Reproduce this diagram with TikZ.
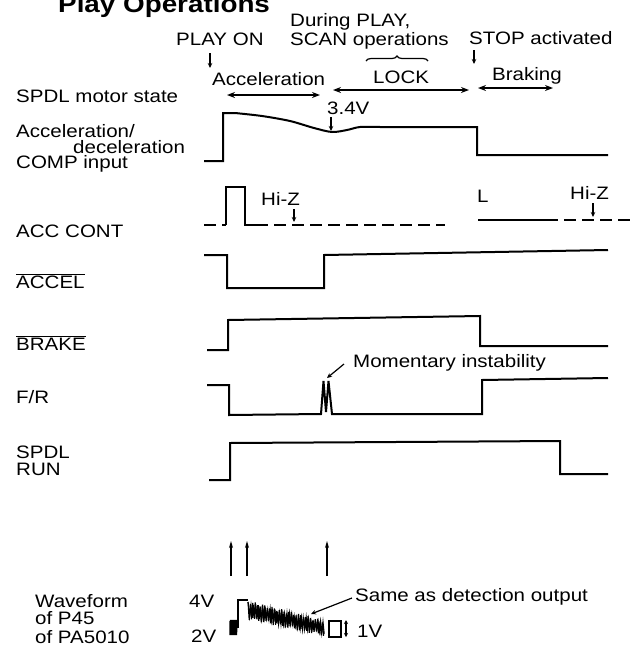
\documentclass[tikz,border=0pt]{standalone}
\usepackage{fontspec}
\setmainfont[FakeStretch=1.14]{Liberation Sans}
\usetikzlibrary{arrows.meta,decorations.pathreplacing}
\begin{document}
\begin{tikzpicture}[x=1pt,y=-1pt,
  lbl/.style={anchor=base west, inner sep=0pt, font=\fontsize{18}{20}\selectfont},
  ttl/.style={anchor=base west, inner sep=0pt, font=\fontsize{24.4}{27}\selectfont\bfseries},
  wave/.style={line width=2pt, line cap=butt, line join=miter},
  hiz/.style={line width=2pt, dash pattern=on 12pt off 6pt},
  darr/.style={line width=1.7pt, {Stealth[length=8pt,width=6pt]}-{Stealth[length=8pt,width=6pt]}},
  pin/.style={line width=1.2pt, -{Stealth[length=5pt,width=4.5pt]}},
  upar/.style={line width=1.3pt, -{Stealth[length=7pt,width=4pt]}},
  band/.style={line width=1.1pt}]
\useasboundingbox (0,0) rectangle (633,649);

% title and top annotations
\node[ttl] (title) at (58,12.5) {Play Operations};
\node[lbl] (playon) at (176,45) {PLAY ON};
\node[lbl] (during) at (290,26) {During PLAY,};
\node[lbl] (scan) at (290,45) {SCAN operations};
\node[lbl] (stop) at (469,44) {STOP activated};
\draw[line width=1.2pt, decorate, decoration={brace, amplitude=5pt}] (366,61) -- (428,61);
\coordinate (pa1) at (210,53); \coordinate (pa2) at (210,68);
\draw[pin] (pa1) -- (pa2);
\coordinate (sa1) at (474,50); \coordinate (sa2) at (474,64);
\draw[pin] (sa1) -- (sa2);
\node[lbl] (accl) at (212,85) {Acceleration};
\node[lbl] (lock) at (373,83) {LOCK};
\node[lbl] (brak) at (492,80) {Braking};
\coordinate (d1a) at (227,95); \coordinate (d1b) at (320,95);
\coordinate (d2a) at (333,90); \coordinate (d2b) at (469,90);
\coordinate (d3a) at (478,88); \coordinate (d3b) at (553,88);
\draw[darr] (d1a) -- (d1b);
\draw[darr] (d2a) -- (d2b);
\draw[darr] (d3a) -- (d3b);

% left labels
\node[lbl] (spdlms) at (16,102) {SPDL motor state};
\node[lbl] (accdec1) at (16,137) {Acceleration/};
\node[lbl] (accdec2) at (73,153) {deceleration};
\node[lbl] (comp) at (16,168) {COMP input};
\node[lbl] (acccont) at (16,237) {ACC CONT};
\node[lbl] (accel) at (16,288) {$\overline{\mbox{ACCEL}}$};
\node[lbl] (brake) at (16,350) {$\overline{\mbox{BRAKE}}$};
\node[lbl] (fr) at (16,403) {F/R};
\node[lbl] (spdl) at (16,458) {SPDL};
\node[lbl] (run) at (16,475) {RUN};

% acceleration / deceleration COMP input
\draw[wave] (204,161) -- (223,161) -- (223,113) -- (235,113)
  plot[smooth] coordinates {(235,113) (262,116) (290,121) (314,128) (332,132) (347,130) (360,127) (380,127)}
  -- (477,127) -- (477,155) -- (608,155);
\node[lbl] (v34) at (327,114) {3.4V};
\coordinate (v34a) at (331,117); \coordinate (v34b) at (331,131);
\draw[pin] (v34a) -- (v34b);

% ACC CONT
\draw[hiz] (204,225) -- (226,225);
\draw[wave] (226,225) -- (226,187) -- (245,187) -- (245,225) -- (256,225);
\draw[hiz] (256,225) -- (445,225);
\draw[wave] (478,220) -- (546,220);
\draw[hiz] (546,220) -- (633,220);
\node[lbl] (hiz1) at (261,205) {Hi-Z};
\node[lbl] (lowL) at (477,202) {L};
\node[lbl] (hiz2) at (570,199) {Hi-Z};
\coordinate (h1a) at (294,209); \coordinate (h1b) at (294,222);
\coordinate (h2a) at (593,203); \coordinate (h2b) at (593,217);
\draw[pin] (h1a) -- (h1b);
\draw[pin] (h2a) -- (h2b);

% ACCEL
\draw[wave] (204,255) -- (227,255) -- (227,288) -- (324,288) -- (324,255) -- (608,250);

% BRAKE
\draw[wave] (207,350) -- (228,350) -- (228,320) -- (480,316) -- (480,346) -- (608,346);

% F/R
\draw[wave] (207,385) -- (229,385) -- (229,415) -- (321,414) -- (323.5,381) -- (326,412)
  -- (328.5,381) -- (332,414) -- (482,414) -- (482,380) -- (608,378);
\node[lbl] (mom) at (353,367) {Momentary instability};
\coordinate (ma) at (344,364); \coordinate (mb) at (327,378);
\draw[pin] (ma) -- (mb);

% SPDL RUN
\draw[wave] (209,480) -- (230,480) -- (230,443) -- (560,441) -- (560,474) -- (608,474);

% timing arrows
\coordinate (u1a) at (231,576); \coordinate (u1b) at (231,541);
\coordinate (u2a) at (247,576); \coordinate (u2b) at (247,541);
\coordinate (u3a) at (327,576); \coordinate (u3b) at (327,541);
\draw[upar] (u1a) -- (u1b);
\draw[upar] (u2a) -- (u2b);
\draw[upar] (u3a) -- (u3b);

% waveform of P45
\node[lbl] (wf1) at (35,607) {Waveform};
\node[lbl] (wf2) at (35,624) {of P45};
\node[lbl] (wf3) at (35,643) {of PA5010};
\node[lbl] (v4) at (189,607) {4V};
\node[lbl] (v2) at (191,642) {2V};
\node[lbl] (v1) at (357,637) {1V};
\draw[band] (230,621) \foreach \i in {0,...,6} { -- ({230+\i*1.1},635) -- ({230.5+\i*1.1},620) };
\draw[wave] (238,628) -- (238,600) -- (248,600);
\draw[band] (248,602) \foreach \i in {0,...,31} {
  -- ({248+2.4*\i}, {602+0.26*2.4*\i+1.5*sin(\i*97)})
  -- ({249.2+2.4*\i}, {618+0.22*(2.4*\i+1.2)+1.5*cos(\i*71)}) };
\draw[band] (248,602) \foreach \i in {0,...,31} {
  -- ({248.6+2.4*\i}, {604+0.26*2.4*\i+1.5*cos(\i*53)})
  -- ({249.8+2.4*\i}, {616+0.22*(2.4*\i+1.2)+1.5*sin(\i*37)}) };
\draw[line width=1.3pt] (329,621) rectangle (341,637);
\coordinate (r1a) at (346,628); \coordinate (r1b) at (346,620);
\coordinate (r2b) at (346,637);
\draw[line width=1.2pt, -{Stealth[length=4pt,width=4pt]}] (r1a) -- (r1b);
\draw[line width=1.2pt, -{Stealth[length=4pt,width=4pt]}] (r1a) -- (r2b);
\node[lbl] (same) at (355,601) {Same as detection output};
\coordinate (sa) at (352,598); \coordinate (sb) at (311,614);
\draw[pin] (sa) -- (sb);
\end{tikzpicture}
\end{document}
